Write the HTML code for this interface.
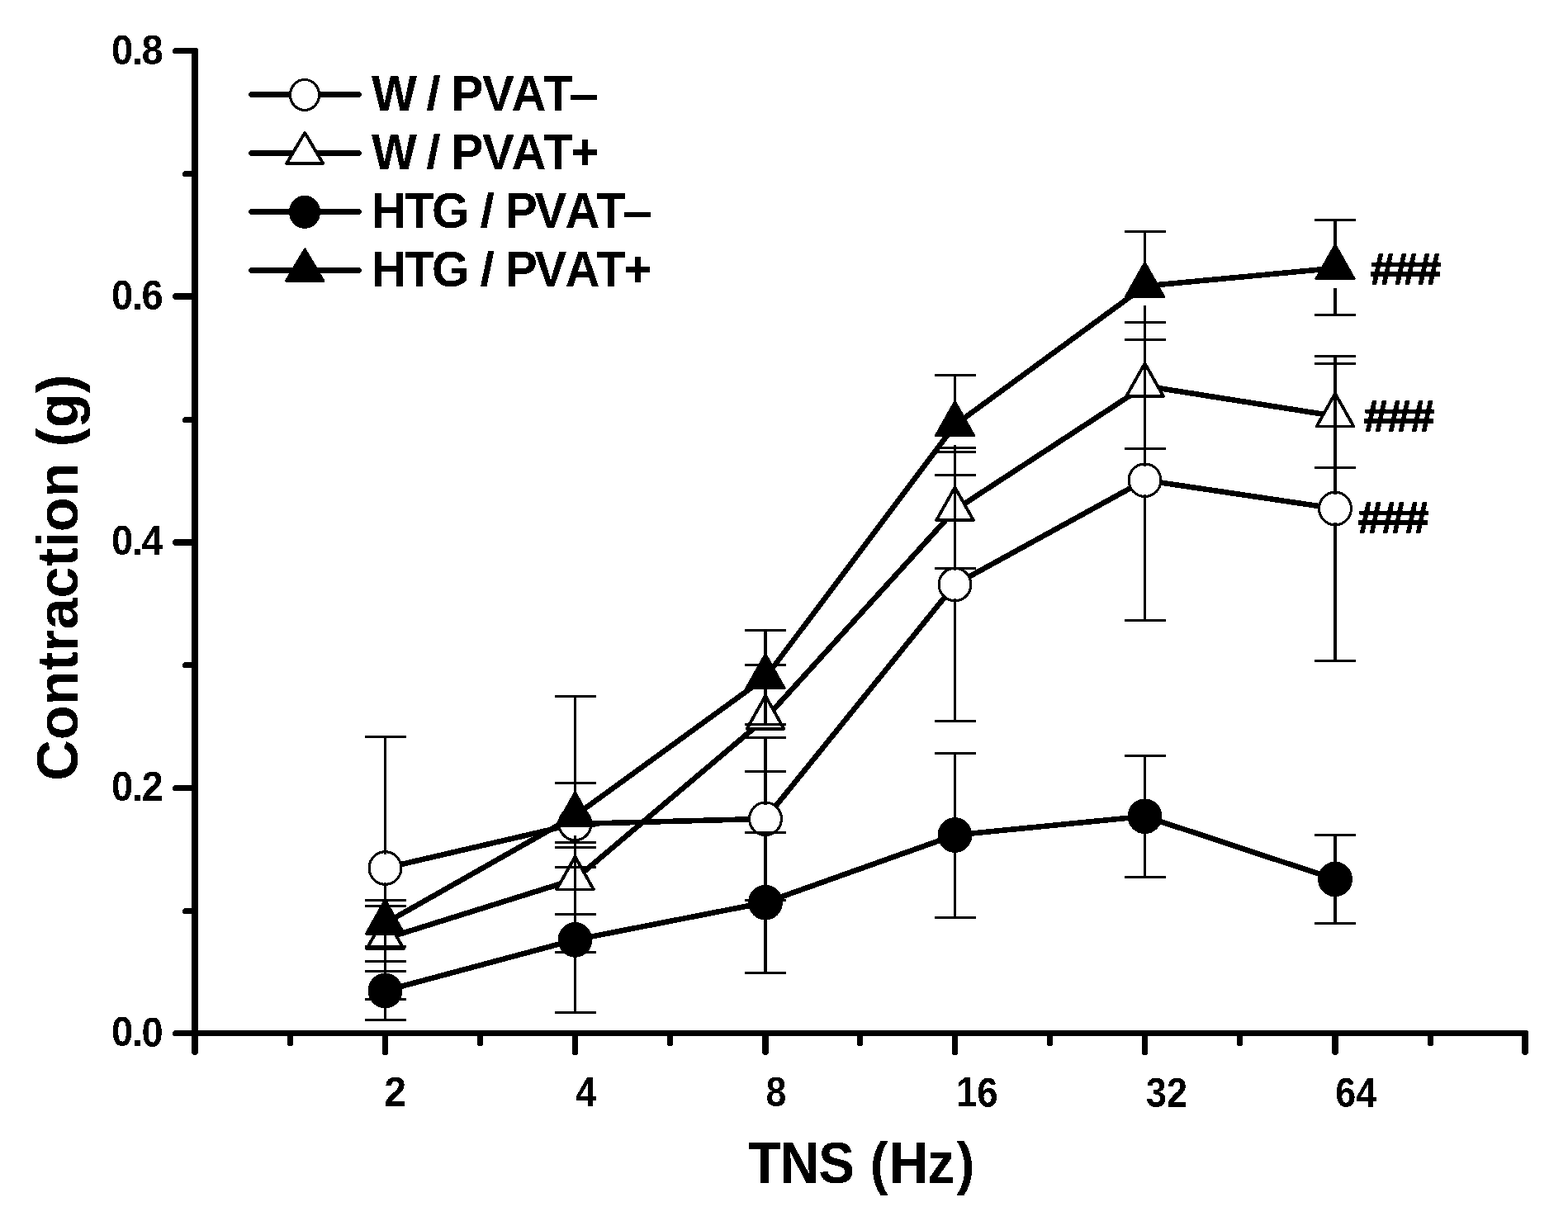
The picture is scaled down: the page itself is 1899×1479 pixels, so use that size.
<!DOCTYPE html>
<html lang="en"><head><meta charset="utf-8">
<style>html,body{margin:0;padding:0;background:#fff}svg{display:block}text{font-family:"Liberation Sans",sans-serif;font-weight:700;fill:#000;font-kerning:normal}</style>
</head><body>
<svg width="1899" height="1479" viewBox="0 0 1899 1479" shape-rendering="crispEdges">
<rect width="1899" height="1479" fill="#fff"/>
<g id="axes" stroke="#000" fill="none" stroke-linecap="round">
<path d="M236 61.5V1274" stroke-width="8"/>
<path d="M212.5 1251.5H1847" stroke-width="7"/>
<path d="M212.5 61.5H236M212.5 954.5H236M212.5 1251.5H236M224.5 210.5H236M224.5 508.5H236M224.5 805.5H236M224.5 1103.5H236M466.5 1251.5V1274.5M696.5 1251.5V1274.5M1156.5 1251.5V1274.5M1386.5 1251.5V1274.5M351.5 1251.5V1263.5M581.5 1251.5V1263.5M811.5 1251.5V1263.5M1041.5 1251.5V1263.5M1271.5 1251.5V1263.5M1501.5 1251.5V1263.5M1732.5 1251.5V1263.5" stroke-width="7"/>
<path d="M213 359H236M213 657H236M236 1251.5V1274M927 1251.5V1274M1617 1251.5V1274M1847 1251.5V1274" stroke-width="8"/>
</g>
<g id="series-oc">
<path d="M466.5 1051.5L696.5 998L927 991.8L1156.5 708L1386.5 581.7L1617 616" fill="none" stroke="#000" stroke-width="6.6" stroke-linejoin="round"/>
<ellipse cx="466.5" cy="1051.5" rx="19.4" ry="19.8" fill="#fff" stroke="#000" stroke-width="3.1"/>
<ellipse cx="696.5" cy="998" rx="19.4" ry="19.8" fill="#fff" stroke="#000" stroke-width="3.1"/>
<ellipse cx="927" cy="991.8" rx="19.4" ry="19.8" fill="#fff" stroke="#000" stroke-width="3.1"/>
<ellipse cx="1156.5" cy="708" rx="19.4" ry="19.8" fill="#fff" stroke="#000" stroke-width="3.1"/>
<ellipse cx="1386.5" cy="581.7" rx="19.4" ry="19.8" fill="#fff" stroke="#000" stroke-width="3.1"/>
<ellipse cx="1617" cy="616" rx="19.4" ry="19.8" fill="#fff" stroke="#000" stroke-width="3.1"/>
</g>
<g id="series-ot">
<path d="M466.5 1137L696.5 1065L927 870.3L1156.5 617.7L1386.5 467.5L1617 504" fill="none" stroke="#000" stroke-width="6.6" stroke-linejoin="round"/>
<polygon points="466.5,1109.6 488.91,1149.5 444.09,1149.5" fill="#fff" stroke="#000" stroke-width="3.8" stroke-linejoin="round"/>
<polygon points="696.5,1037.6 718.91,1077.5 674.09,1077.5" fill="#fff" stroke="#000" stroke-width="3.8" stroke-linejoin="round"/>
<polygon points="927,842.9 949.41,882.8 904.59,882.8" fill="#fff" stroke="#000" stroke-width="3.8" stroke-linejoin="round"/>
<polygon points="1156.5,590.3 1178.91,630.2 1134.09,630.2" fill="#fff" stroke="#000" stroke-width="3.8" stroke-linejoin="round"/>
<polygon points="1386.5,440.1 1408.91,480 1364.09,480" fill="#fff" stroke="#000" stroke-width="3.8" stroke-linejoin="round"/>
<polygon points="1617,476.6 1639.41,516.5 1594.59,516.5" fill="#fff" stroke="#000" stroke-width="3.8" stroke-linejoin="round"/>
</g>
<g id="series-fc">
<path d="M466.5 1200L696.5 1138.4L927 1093.2L1156.5 1011.5L1386.5 988.8L1617 1065" fill="none" stroke="#000" stroke-width="6.6" stroke-linejoin="round"/>
<ellipse cx="466.5" cy="1200" rx="20.95" ry="21.35" fill="#000"/>
<ellipse cx="696.5" cy="1138.4" rx="20.95" ry="21.35" fill="#000"/>
<ellipse cx="927" cy="1093.2" rx="20.95" ry="21.35" fill="#000"/>
<ellipse cx="1156.5" cy="1011.5" rx="20.95" ry="21.35" fill="#000"/>
<ellipse cx="1386.5" cy="988.8" rx="20.95" ry="21.35" fill="#000"/>
<ellipse cx="1617" cy="1065" rx="20.95" ry="21.35" fill="#000"/>
</g>
<g id="series-ft">
<path d="M466.5 1118.3L696.5 988L927 820.7L1156.5 514.7L1386.5 346.5L1617 324.8" fill="none" stroke="#000" stroke-width="6.6" stroke-linejoin="round"/>
<polygon points="466.5,1090.1 489.6,1131.2 443.4,1131.2" fill="#000" stroke="#000" stroke-width="3" stroke-linejoin="round"/>
<polygon points="696.5,959.8 719.6,1000.9 673.4,1000.9" fill="#000" stroke="#000" stroke-width="3" stroke-linejoin="round"/>
<polygon points="927,792.5 950.1,833.6 903.9,833.6" fill="#000" stroke="#000" stroke-width="3" stroke-linejoin="round"/>
<polygon points="1156.5,486.5 1179.6,527.6 1133.4,527.6" fill="#000" stroke="#000" stroke-width="3" stroke-linejoin="round"/>
<polygon points="1386.5,318.3 1409.6,359.4 1363.4,359.4" fill="#000" stroke="#000" stroke-width="3" stroke-linejoin="round"/>
<polygon points="1617,296.6 1640.1,337.7 1593.9,337.7" fill="#000" stroke="#000" stroke-width="3" stroke-linejoin="round"/>
</g>
<g id="errorbars" stroke="#000" fill="none">
<path d="M466.5 892.6V1034.5M466.5 1068.5V1210.9M696.5 843.7V981M696.5 1015V1153.7M1156.5 542.6V691M1156.5 725V873.4M1386.5 411.6V564.7M1386.5 598.7V751.6M466.5 1097.7V1113M466.5 1160.8V1176.8M696.5 1020.8V1041M696.5 1088.8V1107.5M1156.5 547.1V593.7M1156.5 641.5V688.3M1386.5 390.5V443.5M1386.5 491.3V543.6M466.5 1164.4V1183M466.5 1217V1235.6M696.5 1050.4V1121.4M696.5 1155.4V1226.5M1156.5 912.4V994.5M1156.5 1028.5V1111.8M1386.5 915.6V971.8M1386.5 1005.8V1062.8M466.5 1090.1V1094.3M466.5 1142.1V1146.2M696.5 948.5V964M696.5 1011.8V1026.6M1156.5 454.5V490.7M1156.5 538.5V575.1M1386.5 280.4V322.5M1386.5 370.3V411.6" stroke-width="3"/>
<path d="M927 893.5V974.8M927 1008.8V1090.5M1617 431.9V599M1617 633V800.6M927 805.2V846.3M927 894.1V934.6M1617 440.6V480M1617 527.8V566.4M927 1008.3V1076.2M927 1110.2V1178.7M1617 1011.5V1048M1617 1082V1118.6M927 763.7V796.7M927 844.5V877.3M1617 266.7V300.8M1617 348.6V381.6" stroke-width="4"/>
<path d="M442 892.6H492M442 1210.9H492M672 843.7H722M672 1153.7H722M902 893.5H952M902 1090.5H952M1132 542.6H1182M1132 873.4H1182M1362 411.6H1412M1362 751.6H1412M1592 431.9H1642M1592 800.6H1642M442 1097.7H492M442 1176.8H492M672 1020.8H722M672 1107.5H722M902 805.2H952M902 934.6H952M1132 547.1H1182M1132 688.3H1182M1362 390.5H1412M1362 543.6H1412M1592 440.6H1642M1592 566.4H1642M442 1164.4H492M442 1235.6H492M672 1050.4H722M672 1226.5H722M902 1008.3H952M902 1178.7H952M1132 912.4H1182M1132 1111.8H1182M1362 915.6H1412M1362 1062.8H1412M1592 1011.5H1642M1592 1118.6H1642M442 1090.1H492M442 1146.2H492M672 948.5H722M672 1026.6H722M902 763.7H952M902 877.3H952M1132 454.5H1182M1132 575.1H1182M1362 280.4H1412M1362 411.6H1412M1592 266.7H1642M1592 381.6H1642" stroke-width="3"/>
</g>
<g id="legend">
<path d="M304.5 114.5H434.5" stroke="#000" stroke-width="6.6" stroke-linecap="round" fill="none"/>
<ellipse cx="369" cy="114.95" rx="17.5" ry="18.45" fill="#fff" stroke="#000" stroke-width="3.1"/>
<path d="M304.5 185.5H434.5" stroke="#000" stroke-width="6.6" stroke-linecap="round" fill="none"/>
<polygon points="369.2,160.9 391.31,198 347.09,198" fill="#fff" stroke="#000" stroke-width="3.8" stroke-linejoin="round"/>
<path d="M304.5 256.4H434.5" stroke="#000" stroke-width="6.6" stroke-linecap="round" fill="none"/>
<ellipse cx="369" cy="256.85" rx="19.05" ry="20" fill="#000"/>
<path d="M304.5 327.4H434.5" stroke="#000" stroke-width="6.6" stroke-linecap="round" fill="none"/>
<polygon points="369.2,302 392,340.3 346.4,340.3" fill="#000" stroke="#000" stroke-width="3" stroke-linejoin="round"/>
</g>
<defs><filter id="bin" x="0" y="0" width="100%" height="100%" filterUnits="userSpaceOnUse" color-interpolation-filters="sRGB"><feComponentTransfer><feFuncA type="discrete" tableValues="0 1"/></feComponentTransfer></filter></defs>
<g id="labels" filter="url(#bin)">
<text transform="translate(0 134) scale(0.953 1)" font-size="61.1" x="472.21 529.88 541.75 559.38 573.48 612.78 650.02 690.75 723" dy="0 0 -1.13 1.13 0 0 0 0 0">W <tspan font-size="56.51" textLength="18.29" lengthAdjust="spacingAndGlyphs">/</tspan> PVAT<tspan textLength="37.88" lengthAdjust="spacingAndGlyphs">–</tspan></text>
<text transform="translate(0 204.95) scale(0.953 1)" font-size="61.1" x="472.21 529.88 541.75 559.38 573.48 612.78 650.02 690.75 725.6" dy="0 0 -1.13 1.13 0 0 0 0 0">W <tspan font-size="56.51" textLength="18.29" lengthAdjust="spacingAndGlyphs">/</tspan> PVAT+</text>
<text transform="translate(0 275.9) scale(0.953 1)" font-size="61.1" x="472.16 514.27 548.86 596.39 610.21 627.85 642.21 679.52 718.38 757.85 790.89" dy="0 0 0 0 -1.13 1.13 0 0 0 0 0">HTG <tspan font-size="56.51" textLength="18.29" lengthAdjust="spacingAndGlyphs">/</tspan> PVAT<tspan textLength="37.88" lengthAdjust="spacingAndGlyphs">–</tspan></text>
<text transform="translate(0 346.9) scale(0.953 1)" font-size="61.1" x="472.16 514.27 548.86 596.39 610.21 627.85 642.21 679.52 718.38 757.85 792.8" dy="0 0 0 0 -1.13 1.13 0 0 0 0 0">HTG <tspan font-size="56.51" textLength="18.29" lengthAdjust="spacingAndGlyphs">/</tspan> PVAT+</text>
<text transform="translate(134.9 1266.5) scale(0.9550 1)" font-size="49.3" dx="0 -1.4 -1.3" dy="0 0 1.1">0.0</text>
<text transform="translate(134.9 969.9) scale(0.9550 1)" font-size="49.3" dx="0 -1.4 -1.3" dy="0 0 0">0.2</text>
<text transform="translate(134.9 672.3) scale(0.9550 1)" font-size="49.3" dx="0 -1.4 -1.3" dy="0 0 0">0.4</text>
<text transform="translate(134.9 375) scale(0.9550 1)" font-size="49.3" dx="0 -1.4 -1.3" dy="0 0 0">0.6</text>
<text transform="translate(134.9 77.8) scale(0.9550 1)" font-size="49.3" dx="0 -1.4 -1.3" dy="0 0 0">0.8</text>
<text transform="translate(465.23 1340) scale(0.9715 1)" font-size="49.6">2</text>
<text transform="translate(697.27 1340) scale(0.9090 1)" font-size="49.6">4</text>
<text transform="translate(927.48 1340.4) scale(0.9046 1)" font-size="49.6">8</text>
<text transform="translate(1157.96 1340) scale(0.9183 1)" font-size="49.6" dy="0 1.4">16</text>
<text transform="translate(1387.87 1340.5) scale(0.9088 1)" font-size="49.6" dy="0 0.55">32</text>
<text transform="translate(1617.25 1340.55) scale(0.9061 1)" font-size="49.6" dy="0 0.5">64</text>
<text transform="translate(906.11 1432.95) scale(0.9243 1)" font-size="71" dx="0 -1.7 -0.9 0 0.5 1.3 -1 2.7">TNS (Hz)</text>
<text transform="translate(94 945.72) rotate(-90) scale(0.9677 1)" font-size="71">Contraction (g)</text>
<text transform="translate(1659.85 343.65) scale(0.99 0.982)" font-size="53.2" letter-spacing="-1.3" stroke="#000" stroke-width="1.7" stroke-linejoin="miter">###</text>
<text transform="translate(1652.05 522.45) scale(0.99 0.982)" font-size="53.2" letter-spacing="-1.3" stroke="#000" stroke-width="1.7" stroke-linejoin="miter">###</text>
<text transform="translate(1644.95 644.65) scale(0.99 0.982)" font-size="53.2" letter-spacing="-1.3" stroke="#000" stroke-width="1.7" stroke-linejoin="miter">###</text>
</g>
</svg></body></html>
